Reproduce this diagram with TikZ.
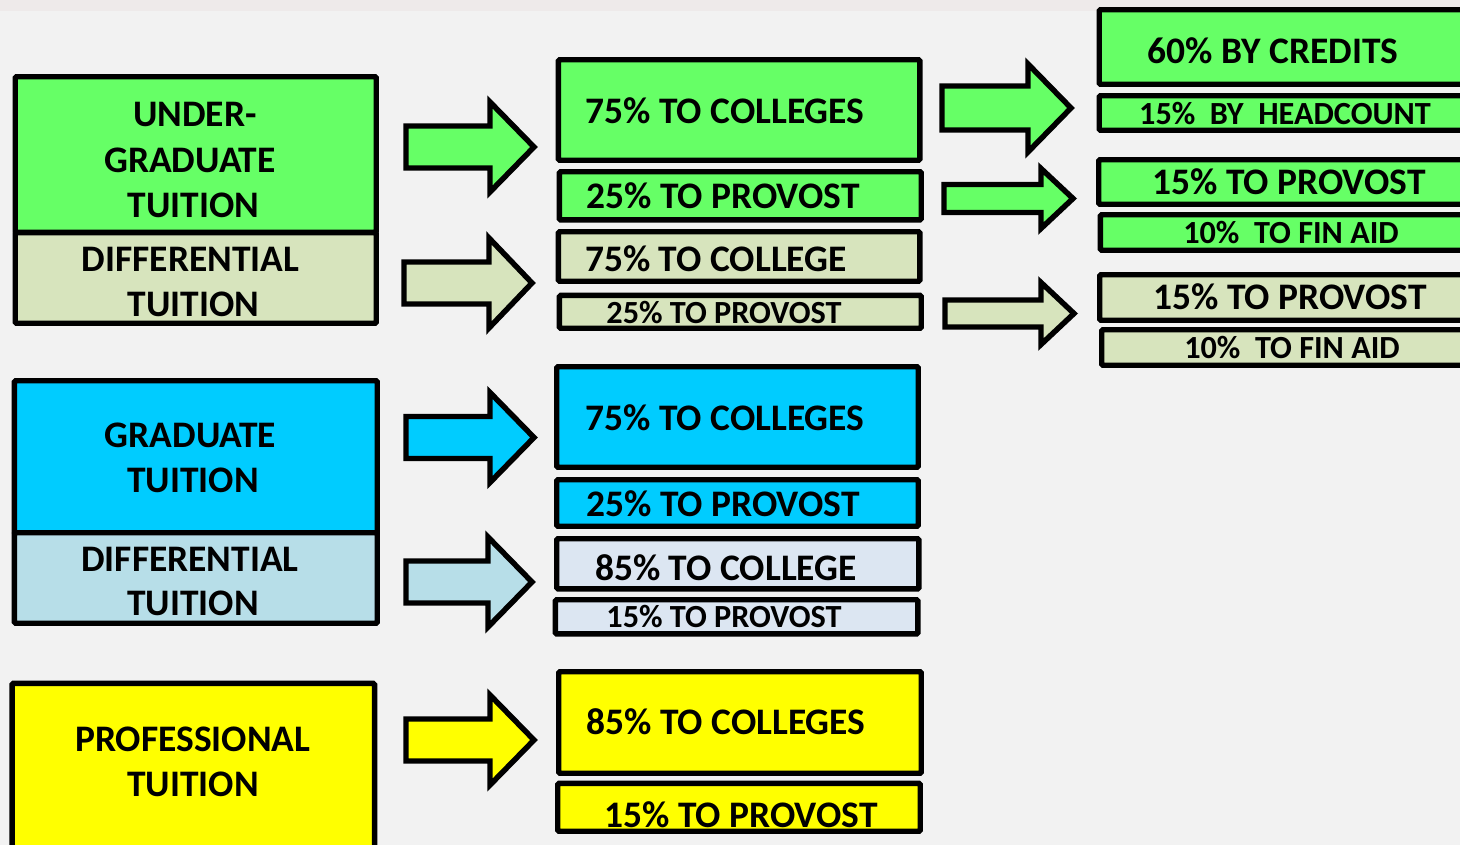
\documentclass[tikz,border=0pt]{standalone}
\usepackage{fontspec}
\setmainfont{Carlito}
\usetikzlibrary{fit}
\definecolor{bgc}{HTML}{F2F2F2}
\definecolor{topc}{HTML}{EEEAEA}
\definecolor{grn}{HTML}{66FF66}
\definecolor{beig}{HTML}{D7E4BD}
\definecolor{blu}{HTML}{00CCFF}
\definecolor{lblu}{HTML}{B7DEE8}
\definecolor{pblu}{HTML}{DCE6F2}
\definecolor{yel}{HTML}{FFFF00}
\tikzset{
  boxst/.style={draw=black, line width=4.1pt, rounded corners=1pt, inner sep=0pt},
  arrst/.style={draw=black, line width=4.1pt, line join=miter},
  big/.style={font=\fontsize{28.1}{33}\selectfont\bfseries, anchor=base, inner sep=0pt, yshift=-0.8pt},
  sml/.style={font=\fontsize{24.2}{28}\selectfont\bfseries, anchor=base, inner sep=0pt, yshift=-0.6pt}
}
\newcommand\bx[6]{\node[boxst, fill=#6, fit={({#2+2.75},{#3+2.75}) ({#4-2.75},{#5-2.75})}] (#1) {};}
\newcommand\barr[7]{\draw[arrst, fill=#7] ({#1},{#4-#5}) -- ({#2},{#4-#5}) -- ({#2},{#4-#6}) -- ({#3},{#4}) -- ({#2},{#4+#6}) -- ({#2},{#4+#5}) -- ({#1},{#4+#5}) -- cycle;}
\begin{document}
\begin{tikzpicture}[x=0.75pt, y=-0.75pt]
\useasboundingbox (0,0) rectangle (1460,845);
\clip (0,0) rectangle (1460,845);
\fill[bgc] (0,0) rectangle (1460,845);
\fill[topc] (0,0) rectangle (1460,11);

% left column
\bx{ug}{12.5}{74}{379}{235}{grn}
\bx{ugd}{12.5}{230}{379}{326}{beig}
\bx{gr}{11.7}{378}{380}{536}{blu}
\bx{grd}{11.7}{530}{380}{626}{lblu}
\bx{pr}{9.3}{680.7}{377.3}{870}{yel}

% middle column
\bx{m1}{555.7}{57}{922.7}{163}{grn}
\bx{m2}{556.7}{169}{924}{222.7}{grn}
\bx{m3}{555.7}{229}{922.7}{284}{beig}
\bx{m4}{556.7}{292.7}{924}{331}{beig}
\bx{m5}{554}{364}{921}{470}{blu}
\bx{m6}{554}{477}{921}{529}{blu}
\bx{m7}{554}{536}{921.7}{591.7}{pblu}
\bx{m8}{552.7}{597}{920.7}{636.7}{pblu}
\bx{m9}{556}{669}{924}{776}{yel}
\bx{m10}{555}{780.7}{923}{834}{yel}

% right column
\bx{r1}{1096.5}{7}{1475}{87}{grn}
\bx{r2}{1096.5}{93}{1475}{133}{grn}
\bx{r3}{1096}{157}{1475}{207}{grn}
\bx{r4}{1097.6}{212}{1475}{253}{grn}
\bx{r5}{1097}{272}{1475}{323}{beig}
\bx{r6}{1099}{327}{1475}{368}{beig}

% arrows
\barr{406}{490}{534}{147}{21}{45}{grn}
\barr{404}{489}{532}{283}{21}{45}{beig}
\barr{406}{490}{534}{437.5}{21}{45}{blu}
\barr{406}{488}{532}{582}{21}{45}{lblu}
\barr{406}{490}{534}{740}{21}{45}{yel}
\barr{942}{1028}{1071}{108}{22}{44}{grn}
\barr{944}{1041}{1073}{198.5}{14}{30}{grn}
\barr{945}{1041}{1074}{313.5}{13.5}{31}{beig}

% texts left
\node[big] (tug1) at (195,125) {UNDER-};
\node[big] (tug2) at (190,171) {GRADUATE};
\node[big] (tug3) at (193.5,216) {TUITION};
\node[big] (tugd1) at (190.7,270) {DIFFERENTIAL};
\node[big] (tugd2) at (193.5,315) {TUITION};
\node[big] (tgr1) at (190.5,446.7) {GRADUATE};
\node[big] (tgr2) at (193,491.7) {TUITION};
\node[big] (tgrd1) at (190,570) {DIFFERENTIAL};
\node[big] (tgrd2) at (193,614) {TUITION};
\node[big] (tpr1) at (192.7,750.7) {PROFESSIONAL};
\node[big] (tpr2) at (193,795) {TUITION};

% texts middle
\node[big] (tm1) at (725,122) {75\% TO COLLEGES};
\node[big] (tm2) at (723,207.7) {25\% TO PROVOST};
\node[big] (tm3) at (716,270) {75\% TO COLLEGE};
\node[sml] (tm4) at (724,323) {25\% TO PROVOST};
\node[big] (tm5) at (725,429) {75\% TO COLLEGES};
\node[big] (tm6) at (723,515) {25\% TO PROVOST};
\node[big] (tm7) at (726,579) {85\% TO COLLEGE};
\node[sml] (tm8) at (724,627) {15\% TO PROVOST};
\node[big] (tm9) at (726,733) {85\% TO COLLEGES};
\node[big] (tm10) at (741,826) {15\% TO PROVOST};

% texts right
\node[big] (tr1) at (1273,62) {60\% BY CREDITS};
\node[sml] (tr2) at (1285,124) {15\%\ \ BY\ \ HEADCOUNT};
\node[big] (tr3) at (1289,193) {15\% TO PROVOST};
\node[sml] (tr4) at (1291,243) {10\%\ \ TO FIN AID};
\node[big] (tr5) at (1290,308) {15\% TO PROVOST};
\node[sml] (tr6) at (1292,358) {10\%\ \ TO FIN AID};
\end{tikzpicture}
\end{document}
